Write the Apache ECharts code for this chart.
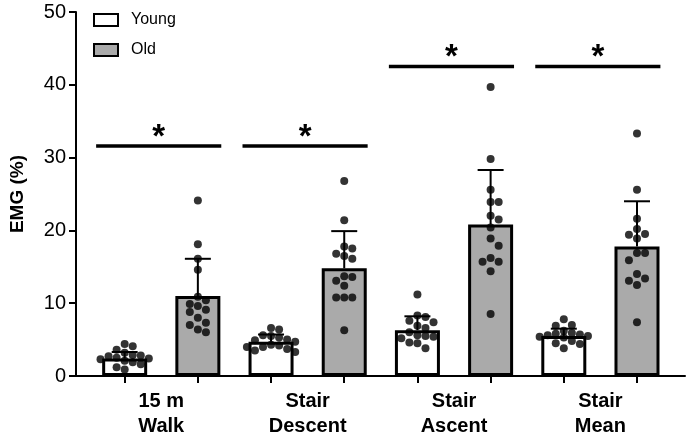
<!DOCTYPE html>
<html><head><meta charset="utf-8">
<script src="https://cdn.jsdelivr.net/npm/echarts@6/dist/echarts.min.js"></script>
<style>html,body{margin:0;padding:0;background:#fff}#c{width:689px;height:445px}</style>
</head><body><div id="c"></div>
<script>
const categories = ['15 m\nWalk', 'Stair\nDescent', 'Stair\nAscent', 'Stair\nMean'];
const seriesNames = ['Young', 'Old'];
const youngMean = [2.4, 4.7, 6.3, 5.5];
const youngSD = [0.9, 1.0, 1.9, 1.0];
const oldMean = [11.0, 14.8, 20.8, 17.8];
const oldSD = [5.1, 5.1, 7.5, 6.2];
const youngWalk = [4.4, 4.1, 3.6, 3.2, 2.9, 2.8, 2.7, 2.5, 2.4, 2.3, 2.1, 1.9, 1.6, 1.2, 0.9];
const youngDescent = [6.6, 6.4, 5.6, 5.5, 5.3, 5.0, 4.9, 4.7, 4.3, 4.2, 4.0, 4.0, 3.7, 3.5, 3.3];
const youngAscent = [11.2, 8.3, 8.1, 7.6, 7.4, 6.9, 6.6, 6.0, 5.6, 5.5, 5.4, 5.2, 4.6, 4.5, 3.8];
const youngStairMean = [7.8, 7.0, 6.9, 6.2, 5.9, 5.8, 5.7, 5.6, 5.5, 5.4, 5.3, 4.8, 4.5, 4.4, 3.8];
const oldWalk = [24.1, 18.1, 16.1, 14.6, 10.9, 10.4, 9.9, 9.6, 9.1, 8.8, 8.0, 7.3, 7.0, 6.4, 6.0];
const oldDescent = [26.8, 21.4, 17.8, 17.5, 16.8, 16.5, 16.1, 13.7, 13.6, 13.1, 12.4, 10.8, 10.8, 10.8, 6.3];
const oldAscent = [39.7, 29.8, 25.6, 23.9, 23.9, 22.0, 21.5, 20.4, 18.9, 17.9, 16.2, 15.7, 15.7, 14.4, 8.5];
const oldStairMean = [33.3, 25.6, 21.6, 20.2, 19.5, 19.4, 18.9, 16.9, 16.9, 15.9, 14.0, 13.4, 13.1, 12.5, 7.4];
const sigLevels = [31.6, 31.6, 42.5, 42.5];
const sigLabels = ['*', '*', '*', '*'];
const yTicks = [0, 10, 20, 30, 40, 50];

const youngPoints = [youngWalk, youngDescent, youngAscent, youngStairMean];
const oldPoints = [oldWalk, oldDescent, oldAscent, oldStairMean];

const GRID = {left: 72, right: 4, top: 12, bottom: 69};
const W = 689, H = 445;
const XMIN = -0.665, XMAX = 7.656;
const xs = (W - GRID.left - GRID.right) / (XMAX - XMIN);
const ys = (H - GRID.top - GRID.bottom) / (yTicks[yTicks.length - 1] - yTicks[0]);

function swarm(values, cx) {
  const placed = [];
  const sorted = values.slice().sort((a, b) => b - a);
  const ks = [0, 1, -1, 2, -2, 3, -3];
  const step = 0.11;
  const dist = 8;
  sorted.forEach(v => {
    let best = null, bestD = -1;
    for (const k of ks) {
      const off = k * step;
      let minD = Infinity;
      placed.forEach(p => {
        const dx = (off - p.off) * xs, dy = (v - p.v) * ys;
        minD = Math.min(minD, Math.sqrt(dx * dx + dy * dy));
      });
      if (minD >= dist) { best = off; break; }
      if (minD > bestD) { bestD = minD; best = off; }
    }
    placed.push({off: best, v});
  });
  return placed.map(p => [cx + p.off, p.v]);
}

const youngBars = youngMean.map((v, i) => [2 * i, v]);
const oldBars = oldMean.map((v, i) => [2 * i + 1, v]);
const errData = youngMean.map((v, i) => [2 * i, v, youngSD[i]])
  .concat(oldMean.map((v, i) => [2 * i + 1, v, oldSD[i]]));
let dots = [];
youngPoints.forEach((arr, i) => { dots = dots.concat(swarm(arr, 2 * i)); });
oldPoints.forEach((arr, i) => { dots = dots.concat(swarm(arr, 2 * i + 1)); });
const sigData = sigLevels.map((v, i) => [i, v]);

const FONT = 'Liberation Sans, Arial, Helvetica, sans-serif';
const chart = echarts.init(document.getElementById('c'), null, {renderer: 'canvas'});
chart.setOption({
  animation: false,
  backgroundColor: '#fff',
  grid: GRID,
  legend: {
    data: seriesNames,
    orient: 'vertical',
    left: 88, top: 7,
    itemWidth: 24, itemHeight: 12,
    itemGap: 14,
    icon: 'rect',
    textStyle: {fontFamily: FONT, fontSize: 16, color: '#000', padding: [0, 0, 0, 8]}
  },
  xAxis: {
    type: 'value', min: XMIN, max: XMAX,
    axisLine: {show: true, onZero: false, lineStyle: {color: '#000', width: 2}},
    axisTick: {show: true, customValues: [0, 1, 2, 3, 4, 5, 6, 7], length: 7, lineStyle: {color: '#000', width: 2}},
    splitLine: {show: false},
    axisLabel: {
      customValues: [0.5, 2.5, 4.5, 6.5],
      formatter: v => categories[Math.round((v - 0.5) / 2)] || '',
      fontFamily: FONT, fontSize: 20, fontWeight: 'bold', color: '#000', lineHeight: 25, margin: 13
    }
  },
  yAxis: {
    type: 'value', min: 0, max: 50, interval: 10,
    name: 'EMG (%)', nameLocation: 'middle', nameGap: 49,
    nameTextStyle: {fontFamily: FONT, fontSize: 19, fontWeight: 'bold', color: '#000'},
    axisLine: {show: true, onZero: false, lineStyle: {color: '#000', width: 2}},
    axisTick: {show: true, length: 7, lineStyle: {color: '#000', width: 2}},
    splitLine: {show: false},
    axisLabel: {fontFamily: FONT, fontSize: 20, color: '#000', margin: 10}
  },
  series: [
    {name: 'Young', type: 'bar', data: youngBars, barWidth: 45, barGap: '-100%',
     itemStyle: {color: '#fff', borderColor: '#000', borderWidth: 3}, z: 2},
    {name: 'Old', type: 'bar', data: oldBars, barWidth: 45, barGap: '-100%',
     itemStyle: {color: '#aaaaaa', borderColor: '#000', borderWidth: 3}, z: 2},
    {type: 'custom', data: errData, z: 3,
     renderItem: (params, api) => {
       const x = api.value(0), m = api.value(1), sd = api.value(2);
       const b = api.coord([x, m]), t = api.coord([x, m + sd]);
       return {type: 'group', children: [
         {type: 'line', shape: {x1: b[0], y1: b[1], x2: t[0], y2: t[1]}, style: {stroke: '#000', lineWidth: 2}},
         {type: 'line', shape: {x1: t[0] - 13, y1: t[1], x2: t[0] + 13, y2: t[1]}, style: {stroke: '#000', lineWidth: 2}}
       ]};
     }},
    {type: 'scatter', data: dots, symbolSize: 8, itemStyle: {color: '#000'}, z: 4},
    {type: 'custom', data: sigData, z: 5,
     renderItem: (params, api) => {
       const g = api.value(0), lvl = api.value(1);
       const p0 = api.coord([2 * g - 0.39, lvl]), p1 = api.coord([2 * g + 1 + 0.32, lvl]);
       return {type: 'group', children: [
         {type: 'line', shape: {x1: p0[0], y1: p0[1], x2: p1[0], y2: p1[1]}, style: {stroke: '#000', lineWidth: 3.5}},
         {type: 'text', style: {text: sigLabels[g], x: (p0[0] + p1[0]) / 2, y: p0[1] + 8,
           textAlign: 'center', textVerticalAlign: 'bottom', font: 'bold 33px ' + FONT, fill: '#000'}}
       ]};
     }}
  ]
});
</script></body></html>
